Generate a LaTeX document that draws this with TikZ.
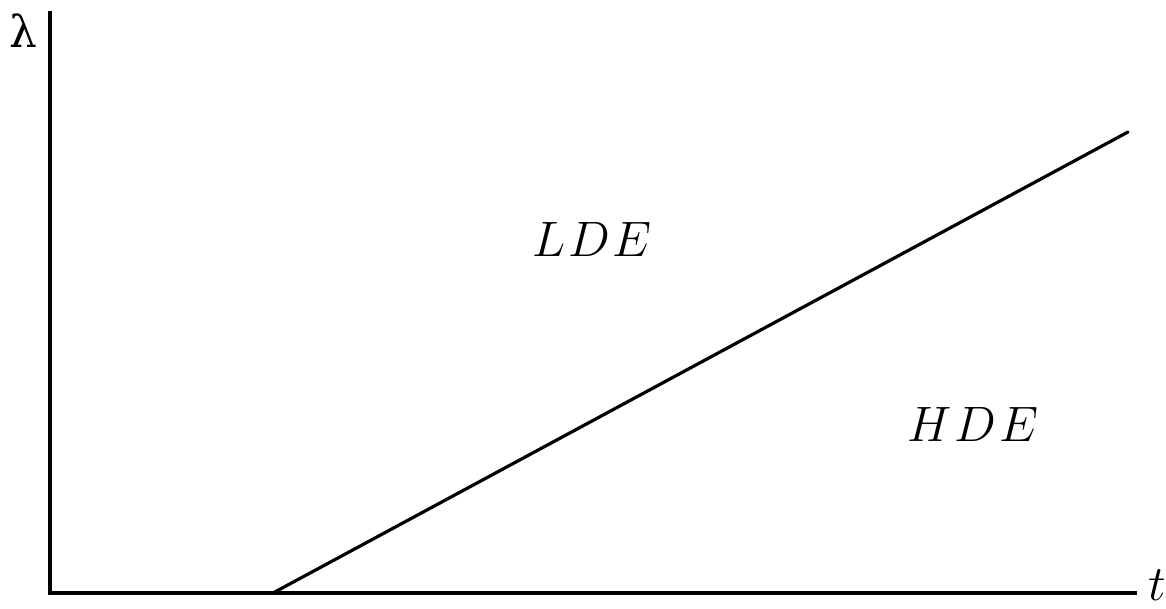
\documentclass[tikz,border=0pt]{standalone}
\usepackage{fontspec}
\newfontfamily\greekfont{DejaVu Serif}
\usetikzlibrary{positioning}
\tikzset{
  axis/.style={line width=1.8pt, line cap=rect},
  bound/.style={line width=1.6pt, line cap=round},
  region/.style={font=\fontsize{23}{28}\selectfont},
  axislabel/.style={font=\fontsize{23}{28}\selectfont, inner sep=0pt}
}

\begin{document}
\begin{tikzpicture}[x=0.5pt, y=0.5pt]
\useasboundingbox (0,0) rectangle (1166,609);

% axes
\coordinate (origin) at (50,16);
\coordinate (ytop) at (50,596);
\coordinate (xend) at (1135,16);
\draw[axis] (ytop) -- (origin) -- (xend);

% boundary between the two regions
\coordinate (bstart) at (273,16);
\coordinate (bend) at (1128,477);
\draw[bound] (bstart) -- (bend);

\node[axislabel, font=\greekfont\fontsize{22}{28}\selectfont] (lambda) at (23,578) {λ};
\node[axislabel] (tlab) at (1157,24) {$t$};

\node[region] (lde) at (592,369) {$L\mskip1mu D\mskip1mu E$};
\node[region] (hde) at (973,184) {$H\mskip1mu D\mskip1mu E$};
\end{tikzpicture}
\end{document}
